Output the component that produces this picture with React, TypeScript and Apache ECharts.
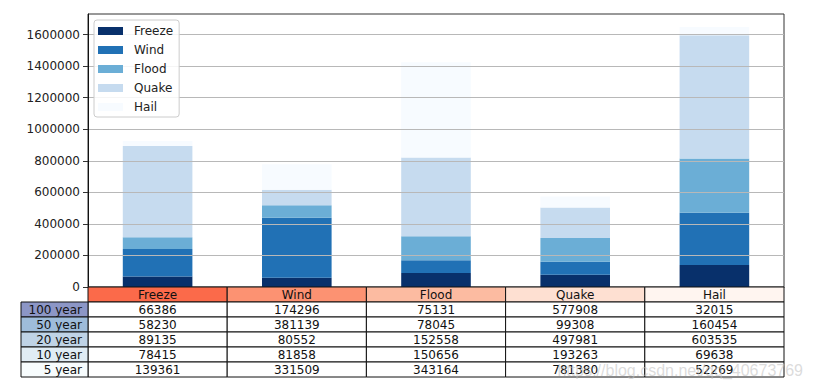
import React, { useEffect, useRef } from "react";
import * as echarts from "echarts";

const hazards = ["Freeze", "Wind", "Flood", "Quake", "Hail"];
const periods = ["100 year", "50 year", "20 year", "10 year", "5 year"];
// rows = periods, columns = hazards
const row100 = [66386, 174296, 75131, 577908, 32015];
const row50 = [58230, 381139, 78045, 99308, 160454];
const row20 = [89135, 80552, 152558, 497981, 603535];
const row10 = [78415, 81858, 150656, 193263, 69638];
const row5 = [139361, 331509, 343164, 781380, 52269];
const tableRows = [row100, row50, row20, row10, row5];
const yTicks = [0, 200000, 400000, 600000, 800000, 1000000, 1200000, 1400000, 1600000];
const yMax = 1730067;

const barColors = ["#08306b", "#2171b5", "#6baed6", "#c6dbef", "#f7fbff"];
const headerColors = ["#fb6a4a", "#fc9272", "#fcbba1", "#fee0d2", "#fff5f0"];
const rowLabelColors = ["#8c96c6", "#9ebcda", "#bfd3e6", "#e0ecf4", "#f7fcfd"];

const FONT = "DejaVu Sans";

export default function App() {
  const ref = useRef<HTMLDivElement>(null);
  useEffect(() => {
    if (!ref.current) return;
    const chart = echarts.init(ref.current, null, { renderer: "svg" });
    const gridLeft = 88;
    const gridRight = 784;
    const gridTop = 14;
    const gridBottom = 287;
    const series = hazards.map((h, j) => ({
      name: h,
      type: "bar",
      stack: "total",
      barWidth: "50%",
      data: tableRows.map((r) => r[j]),
      itemStyle: { color: barColors[j] },
      z: 2,
    }));
    chart.setOption({
      animation: false,
      textStyle: { fontFamily: FONT },
      grid: {
        left: gridLeft,
        top: gridTop,
        width: gridRight - gridLeft,
        height: gridBottom - gridTop,
        show: true,
        borderColor: "#333",
        borderWidth: 1,
        backgroundColor: "transparent",
      },
      legend: {
        orient: "vertical",
        left: 94,
        top: 20,
        data: hazards,
        icon: "rect",
        itemWidth: 25,
        itemHeight: 8,
        itemGap: 7,
        padding: [5, 6, 4, 4],
        backgroundColor: "rgba(255,255,255,0.85)",
        borderColor: "#cccccc",
        borderWidth: 1,
        borderRadius: 3,
        z: 10,
        textStyle: { fontFamily: FONT, fontSize: 12, color: "#222", padding: [0, 0, 0, 6] },
      },
      xAxis: {
        type: "category",
        data: hazards,
        axisLabel: { show: false },
        axisTick: { show: false },
        axisLine: { show: true, lineStyle: { color: "#111", width: 1 } },
        splitLine: { show: false },
      },
      yAxis: {
        type: "value",
        min: 0,
        max: yMax,
        interval: 200000,
        z: 5,
        axisLine: { show: true, lineStyle: { color: "#111" } },
        axisTick: {
          show: true,
          length: 5,
          lineStyle: { color: "#333" },
          customValues: yTicks,
        },
        axisLabel: {
          fontFamily: FONT,
          fontSize: 12,
          color: "#222",
          margin: 8,
          customValues: yTicks,
          formatter: (v: number) => (yTicks.includes(v) ? String(v) : ""),
        },
        splitLine: { show: true, lineStyle: { color: "#b8b8b8", width: 1 } },
      },
      series,
    });

    // Table below the plot, aligned with category bands
    const rowH = 15;
    const tableTop = gridBottom;
    const band = (gridRight - gridLeft) / hazards.length;
    const elems: any[] = [];
    hazards.forEach((h, j) => {
      const cx = chart.convertToPixel({ xAxisIndex: 0 }, j) as number;
      const x0 = cx - band / 2;
      elems.push({
        type: "rect",
        shape: { x: x0, y: tableTop, width: band, height: rowH },
        style: { fill: headerColors[j], stroke: "#111", lineWidth: 1 },
        z: 20,
      });
      elems.push({
        type: "text",
        x: cx,
        y: tableTop + rowH / 2 + 0.5,
        style: {
          text: h,
          fill: "#111",
          font: `12px "${FONT}"`,
          align: "center",
          verticalAlign: "middle",
        },
        z: 21,
      });
      tableRows.forEach((r, i) => {
        const y0 = tableTop + rowH * (i + 1);
        elems.push({
          type: "rect",
          shape: { x: x0, y: y0, width: band, height: rowH },
          style: { fill: "#ffffff", stroke: "#111", lineWidth: 1 },
          z: 20,
        });
        elems.push({
          type: "text",
          x: cx,
          y: y0 + rowH / 2 + 0.5,
          style: {
            text: String(r[j]),
            fill: "#111",
            font: `12px "${FONT}"`,
            align: "center",
            verticalAlign: "middle",
          },
          z: 21,
        });
      });
    });
    const labelLeft = 21;
    periods.forEach((p, i) => {
      const y0 = tableTop + rowH * (i + 1);
      elems.push({
        type: "rect",
        shape: { x: labelLeft, y: y0, width: gridLeft - labelLeft, height: rowH },
        style: { fill: rowLabelColors[i], stroke: "#111", lineWidth: 1 },
        z: 20,
      });
      elems.push({
        type: "text",
        x: gridLeft - 6,
        y: y0 + rowH / 2 + 0.5,
        style: {
          text: p,
          fill: "#111",
          font: `12px "${FONT}"`,
          align: "right",
          verticalAlign: "middle",
        },
        z: 21,
      });
    });
    elems.push({
      type: "text",
      x: 803,
      y: 370,
      style: {
        text: "https://blog.csdn.net/qq_40673769",
        fill: "rgba(190,190,190,0.55)",
        font: `16px "Liberation Sans"`,
        align: "right",
        verticalAlign: "middle",
      },
      z: 30,
    });
    chart.setOption({ graphic: { elements: elems } });

    return () => chart.dispose();
  }, []);
  return (
    <div
      ref={ref}
      style={{ position: "fixed", left: 0, top: 0, width: 813, height: 389, background: "#fff" }}
    />
  );
}
